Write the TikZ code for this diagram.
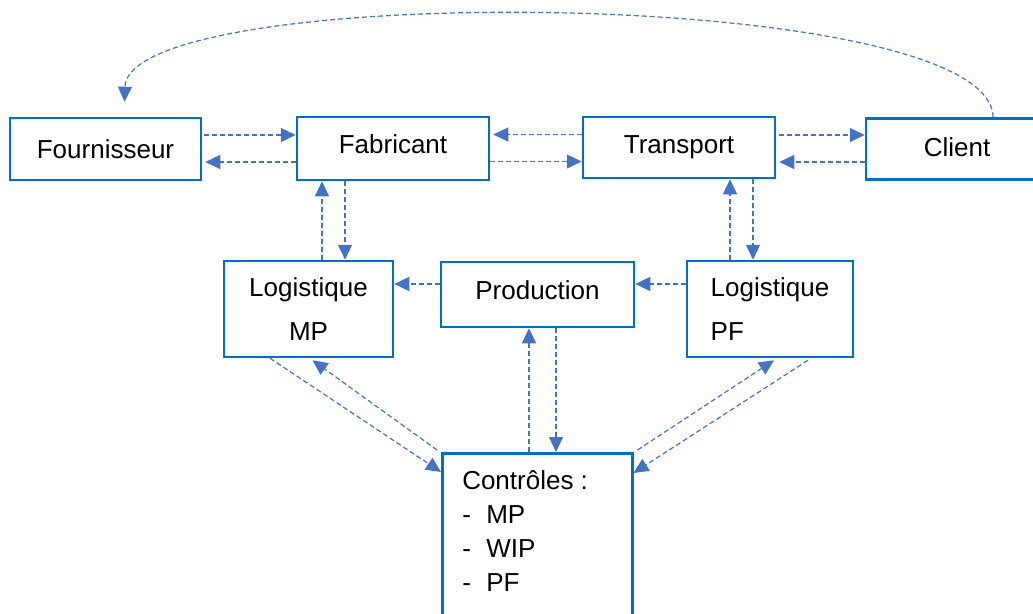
\documentclass[tikz,border=0pt]{standalone}
\usepackage{fontspec}
\setmainfont{Liberation Sans}
\usetikzlibrary{arrows.meta}
\usetikzlibrary{shapes}

\definecolor{boxblue}{RGB}{0,112,192}
\definecolor{flowblue}{RGB}{68,114,196}

\begin{document}
\begin{tikzpicture}[x=1pt, y=-1pt, line width=1pt,
    font=\fontsize{26}{44}\selectfont,
    box/.style={draw=boxblue, line width=2.5pt, fill=white, rectangle, align=center},
    flow/.style={draw=flowblue, line width=1.2pt, dash pattern=on 5pt off 3pt,
        -{Triangle[length=15pt, width=14pt]}}]

            % fix the page
            \useasboundingbox (0, 0) rectangle (1033, 613);

            %%%%%%%%
            % top row
            %%%%%%%%

            % draw boxes
            \node[box, minimum width=191, minimum height=62] (fou) at (105.5, 149) {Fournisseur};
            \node[box, text depth=9pt, minimum width=192, minimum height=63] (fab) at (393, 148.5) {Fabricant};
            \node[box, minimum width=192, minimum height=61] (tra) at (679, 147.5) {Transport};
            \node[box, text depth=4pt, minimum width=182, minimum height=61] (cli) at (957, 149) {Client};

            % draw flows
            \draw[flow] ([xshift=2pt, yshift=14pt]fou.east) -- ([yshift=14pt]fou.east -| fab.west);
            \draw[flow] ([yshift=-13pt]fou.east -| fab.west) -- ([xshift=3pt, yshift=-13pt]fou.east);
            \draw[flow] ([yshift=13pt]tra.west) -- ([xshift=3pt, yshift=13pt]tra.west -| fab.east);
            \draw[flow] ([yshift=-14pt]tra.west -| fab.east) -- ([yshift=-14pt]tra.west);
            \draw[flow] ([xshift=3pt, yshift=14pt]cli.west -| tra.east) -- ([yshift=14pt]cli.west);
            \draw[flow] ([yshift=-13pt]cli.west) -- ([xshift=3pt, yshift=-13pt]cli.west -| tra.east);

            % draw return loop
            \draw[flow] ([xshift=36pt]cli.north) .. controls (992, -14) and (128, -20) .. ([xshift=19pt, yshift=15pt]fou.north);

            %%%%%%%%
            % middle row
            %%%%%%%%

            % draw boxes
            \node[box, minimum width=169, minimum height=96] (lmp) at (308.5, 309) {Logistique\\MP};
            \node[box, text depth=9pt, minimum width=193, minimum height=65] (pro) at (537.5, 294.5) {Production};
            \node[box, align=left, inner xsep=22pt, minimum width=166, minimum height=96] (lpf) at (770, 309) {Logistique\\PF};

            % draw flows
            \draw[flow] ([xshift=13.5pt]lmp.north) -- ([xshift=13.5pt]lmp.north |- fab.south);
            \draw[flow] ([xshift=36.5pt]lmp.north |- fab.south) -- ([xshift=36.5pt]lmp.north);
            \draw[flow] ([xshift=-40pt]lpf.north) -- ([xshift=-40pt]lpf.north |- tra.south);
            \draw[flow] ([xshift=-17pt]lpf.north |- tra.south) -- ([xshift=-17pt]lpf.north);
            \draw[flow] ([yshift=10.5pt]pro.west) -- ([yshift=10.5pt]pro.west -| lmp.east);
            \draw[flow] ([yshift=10.5pt]pro.east -| lpf.west) -- ([yshift=10.5pt]pro.east);

            %%%%%%%%
            % controls
            %%%%%%%%

            % draw box
            \node[box, anchor=north west, inner xsep=20pt, inner ysep=17pt, align=left] (ctl) at (441, 452)
                {\begin{minipage}[t][190pt][t]{150pt}\baselineskip=34pt
                 Contrôles :\\
                 \makebox[24pt][l]{-}MP\\
                 \makebox[24pt][l]{-}WIP\\
                 \makebox[24pt][l]{-}PF
                 \end{minipage}};

            % draw flows
            \draw[flow] ([xshift=-8.5pt]pro.south |- ctl.north) -- ([xshift=-8.5pt]pro.south);
            \draw[flow] ([xshift=18.5pt]pro.south) -- ([xshift=18.5pt]pro.south |- ctl.north);
            \draw[flow] ([xshift=-38.5pt]lmp.south) -- ([yshift=-20pt]ctl.north west);
            \draw[flow] ([xshift=-4pt, yshift=2pt]ctl.north west) -- ([xshift=4pt, yshift=-2pt]lmp.south);
            \draw[flow] ([xshift=4pt, yshift=2pt]ctl.north east) -- ([xshift=4pt, yshift=-2pt]lpf.south);
            \draw[flow] ([xshift=38pt, yshift=-2pt]lpf.south) -- ([yshift=-21pt]ctl.north east);
        \end{tikzpicture}
\end{document}
